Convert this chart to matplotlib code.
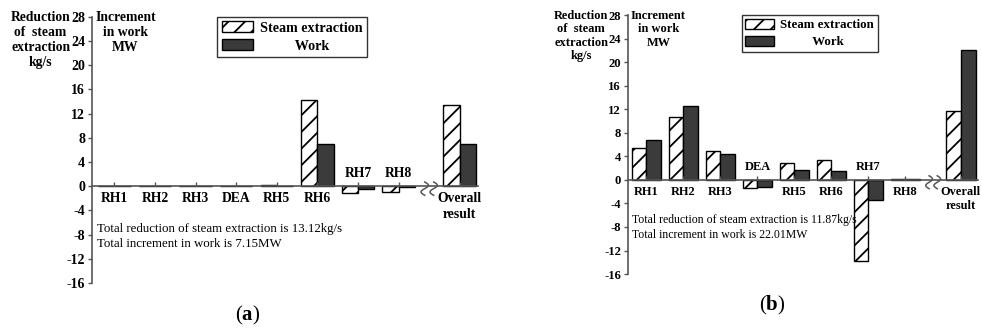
import numpy as np
import matplotlib
matplotlib.use("Agg")
import matplotlib.pyplot as plt

plt.rcParams['font.family'] = ['Liberation Serif', 'DejaVu Serif']
plt.rcParams['hatch.linewidth'] = 1.3
plt.rcParams['mathtext.fontset'] = 'custom'
plt.rcParams['mathtext.bf'] = 'Liberation Serif:bold'
plt.rcParams['mathtext.rm'] = 'Liberation Serif'

# categories (last one is the overall result, placed after the axis break)
categories = ['RH1', 'RH2', 'RH3', 'DEA', 'RH5', 'RH6', 'RH7', 'RH8', 'Overall\nresult']

# panel (a): reduction of steam extraction (kg/s) and increment in work (MW)
steam_a = [0, 0, 0, 0, 0.2, 14.3, -1.2, -1.0, 13.5]
work_a = [0, 0, 0, 0, 0.1, 7.0, -0.4, -0.1, 7.0]

# panel (b)
steam_b = [5.4, 10.7, 4.9, -1.4, 2.9, 3.3, -13.8, 0.2, 11.7]
work_b = [6.8, 12.5, 4.4, -1.2, 1.7, 1.5, -3.4, 0.1, 22.0]

yticks = [-16, -12, -8, -4, 0, 4, 8, 12, 16, 20, 24, 28]
notes_a = "Total reduction of steam extraction is 13.12kg/s\nTotal increment in work is 7.15MW"
notes_b = "Total reduction of steam extraction is 11.87kg/s\nTotal increment in work is 22.01MW"

AXIS_GRAY = '#555555'
WORK_COLOR = '#3b3b3b'
xpos = np.append(np.arange(8), 8.5)
brk = 7.75
bw = 0.4

fig = plt.figure(figsize=(9.82, 3.29), dpi=100)
ax_a = fig.add_axes([0.0937, 0.140, 0.393, 0.8085])
ax_b = fig.add_axes([0.6395, 0.167, 0.356, 0.787])


def draw_panel(ax, steam, work, xlim, notes, note_y, k):
    ax.bar(xpos - bw / 2, steam, bw, color='white', edgecolor='black',
           hatch='//', linewidth=1.0, label='Steam extraction')
    ax.bar(xpos + bw / 2, work, bw, color=WORK_COLOR, edgecolor='black',
           linewidth=1.0, label='          Work')
    ax.set_xlim(*xlim)
    ax.set_ylim(-16, 28)
    ax.set_yticks(yticks)
    ax.set_yticklabels([str(t) for t in yticks], fontsize=10 * k, fontweight='bold')
    ax.set_xticks(xpos)
    ax.set_xticklabels([''] * len(xpos))
    ax.tick_params(axis='x', direction='in', length=3, color=AXIS_GRAY, width=1)
    ax.tick_params(axis='y', direction='out', length=3, color=AXIS_GRAY, width=1, pad=2)
    for s in ['top', 'right']:
        ax.spines[s].set_visible(False)
    ax.spines['bottom'].set_position(('data', 0))
    ax.spines['bottom'].set_color(AXIS_GRAY)
    ax.spines['left'].set_color(AXIS_GRAY)
    ax.spines['bottom'].set_linewidth(1.2)
    ax.spines['left'].set_linewidth(1.2)
    ax.set_facecolor('none')

    # category labels: below the axis, or above it when the bar goes down
    for xp, lab, s in zip(xpos, categories, steam):
        if s < 0:
            ax.annotate(lab, (xp, 0), xytext=(0, 9), textcoords='offset points',
                        ha='center', va='center', fontsize=9.8 * k, fontweight='bold')
        else:
            ax.annotate(lab, (xp, 0), xytext=(0, -4.5 * k), textcoords='offset points',
                        ha='center', va='top', fontsize=9.8 * k, fontweight='bold',
                        linespacing=1.25)

    # axis break symbol
    t = np.linspace(0, 1, 40)
    for dx in (-0.11, 0.11):
        ax.plot(brk + dx + 0.09 * np.sin(2 * np.pi * t), 0.7 - 2.2 * t,
                color=AXIS_GRAY, lw=1.1, clip_on=False)

    ax.text(0.012, note_y, notes, transform=ax.get_yaxis_transform(),
            fontsize=9.3 * k, va='center', ha='left', linespacing=1.25)

    ax.annotate("Reduction\nof  steam\nextraction\nkg/s", (0, 1), xycoords='axes fraction',
                xytext=(-37 * k, 4), textcoords='offset points', ha='center', va='top',
                fontsize=9.8 * k, fontweight='bold', linespacing=1.18)
    ax.annotate("Increment\nin work\nMW", (0, 1), xycoords='axes fraction',
                xytext=(24 * k, 4), textcoords='offset points', ha='center', va='top',
                fontsize=9.8 * k, fontweight='bold', linespacing=1.18)

    leg = ax.legend(loc='upper left', bbox_to_anchor=(0.325, 1.0), frameon=True,
                    fancybox=False, edgecolor='black',
                    prop={'weight': 'bold', 'size': 10.2 * k}, handlelength=2.2,
                    handleheight=0.8, labelspacing=0.35, borderpad=0.3,
                    handletextpad=0.5, borderaxespad=0)
    leg.get_frame().set_linewidth(1.0)


draw_panel(ax_a, steam_a, work_a, (-0.55, 8.95), notes_a, -8.3, 1.0)
draw_panel(ax_b, steam_b, work_b, (-0.5, 8.95), notes_b, -8.1, 0.91)

fig.text(248 / 982, 1 - 315 / 329, r"($\mathbf{a}$)", ha='center', va='center', fontsize=15)
fig.text(772 / 982, 1 - 305 / 329, r"($\mathbf{b}$)", ha='center', va='center', fontsize=15)

fig.savefig("out.png", dpi=100)
